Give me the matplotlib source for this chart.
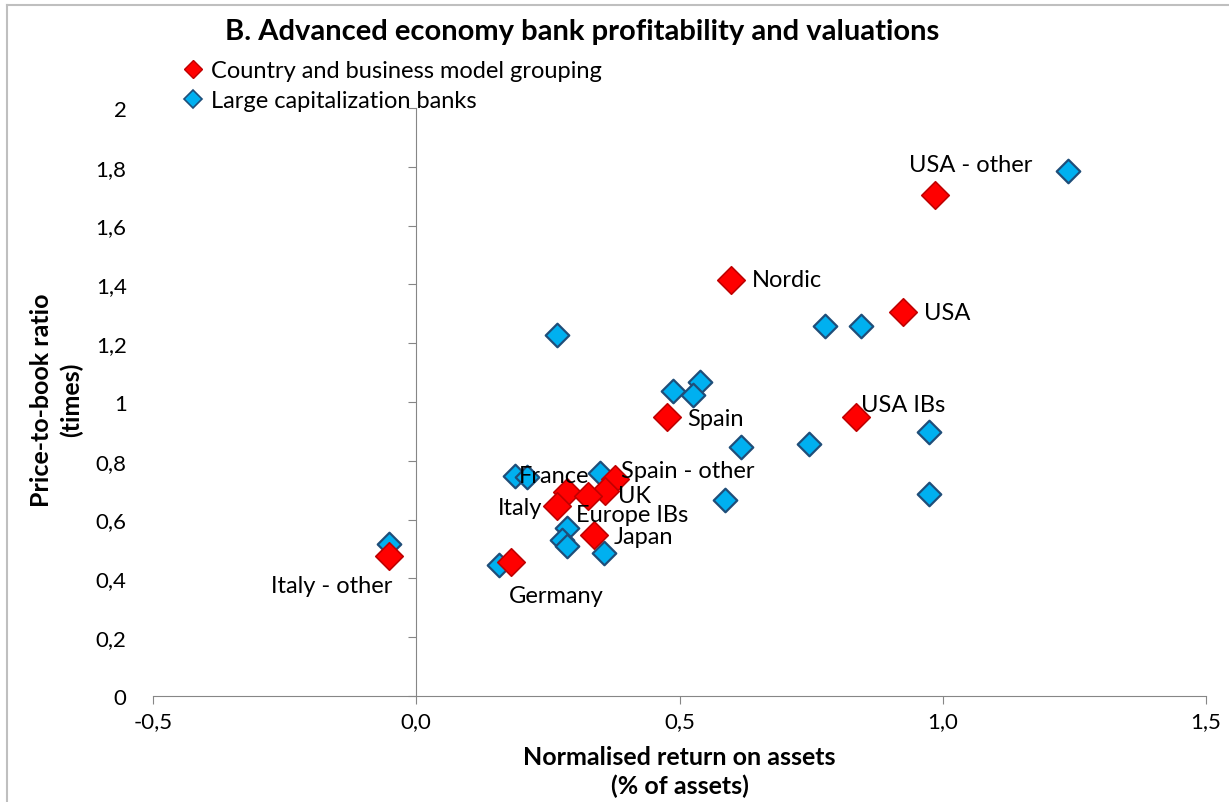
import numpy as np
import matplotlib
matplotlib.use('Agg')
import matplotlib.pyplot as plt
from matplotlib.lines import Line2D
from matplotlib.ticker import FuncFormatter, MultipleLocator

plt.rcParams['font.family'] = ['Lato', 'DejaVu Sans']

# Country and business model groupings (red)
group_names = ['USA - other', 'Nordic', 'USA', 'Spain', 'USA IBs', 'Spain - other',
               'UK', 'France', 'Italy', 'Europe IBs', 'Japan', 'Germany', 'Italy - other']
group_roa = [0.986, 0.598, 0.925, 0.477, 0.836, 0.378,
             0.359, 0.287, 0.268, 0.327, 0.338, 0.179, -0.051]
group_pb = [1.704, 1.415, 1.306, 0.949, 0.949, 0.738,
            0.697, 0.694, 0.646, 0.680, 0.548, 0.456, 0.476]

# Large capitalization banks (blue)
bank_roa = [1.237, 0.777, 0.845, 0.268, 0.488, 0.538, 0.526, 0.617, 0.746, 0.974,
            0.974, 0.587, 0.188, 0.211, 0.349, 0.287, 0.277, 0.287, 0.357, 0.158, -0.051]
bank_pb = [1.786, 1.259, 1.259, 1.228, 1.037, 1.068, 1.024, 0.847, 0.857, 0.898,
           0.687, 0.667, 0.748, 0.745, 0.758, 0.571, 0.531, 0.510, 0.486, 0.446, 0.517]

# label placement: offset in points and alignment
label_pos = {
    'USA - other': (-19, 22, 'left'),
    'Nordic': (15, 0, 'left'),
    'USA': (15, 0, 'left'),
    'Spain': (14, -1, 'left'),
    'USA IBs': (3, 9, 'left'),
    'Spain - other': (4, 6, 'left'),
    'UK': (9, -3, 'left'),
    'France': (-35, 12, 'left'),
    'Italy': (-11, -1, 'right'),
    'Europe IBs': (-9, -13, 'left'),
    'Japan': (14, -1, 'left'),
    'Germany': (-1, -24, 'left'),
    'Italy - other': (2, -21, 'right'),
}

grey = '#868686'
fig = plt.figure(figsize=(12.29, 8.03), dpi=100)
ax = fig.add_axes([0.1245, 0.132, 0.8568, 0.7323])

ax.scatter(bank_roa, bank_pb, marker='D', s=12**2, c='#00B0F0',
           edgecolors='#1F4E79', linewidths=1.6, zorder=3)
ax.scatter(group_roa, group_pb, marker='D', s=14**2, c='#FF0000',
           edgecolors='#C00000', linewidths=1.2, zorder=4)

for name, x, y in zip(group_names, group_roa, group_pb):
    dx, dy, ha = label_pos[name]
    ax.annotate(name, (x, y), xytext=(dx, dy), textcoords='offset points',
                ha=ha, va='center', fontsize=17, zorder=5)

ax.set_xlim(-0.5, 1.5)
ax.set_ylim(0, 2)
ax.xaxis.set_major_locator(MultipleLocator(0.5))
ax.yaxis.set_major_locator(MultipleLocator(0.2))
ax.xaxis.set_major_formatter(FuncFormatter(lambda v, p: f'{v:.1f}'.replace('.', ',')))
ax.yaxis.set_major_formatter(FuncFormatter(
    lambda v, p: '%d' % round(v) if abs(v - round(v)) < 1e-9 else f'{v:.1f}'.replace('.', ',')))

for s in ['top', 'right', 'left']:
    ax.spines[s].set_visible(False)
ax.spines['bottom'].set_color(grey)
ax.tick_params(axis='x', direction='out', length=6, color=grey, labelsize=16, pad=5)
ax.tick_params(axis='y', length=0, labelsize=16, pad=19)

# vertical axis line drawn at x = 0
sec = ax.secondary_yaxis(0.25)
sec.spines['left'].set_color(grey)
sec.yaxis.set_major_locator(MultipleLocator(0.2))
sec.tick_params(axis='y', direction='out', length=6, color=grey, labelleft=False)

fig.text(0.4735, 0.960, 'B. Advanced economy bank profitability and valuations',
         ha='center', va='center', fontsize=21, fontweight='bold')
fig.text(0.046, 0.502, 'Price-to-book ratio\n(times)', rotation=90, ha='center',
         va='center', fontsize=18, fontweight='bold', multialignment='center', linespacing=1.35)
fig.text(0.553, 0.0385, 'Normalised return on assets\n(% of assets)', ha='center',
         va='center', fontsize=18, fontweight='bold', multialignment='center', linespacing=1.25)

handles = [
    Line2D([], [], ls='none', marker='D', ms=9, mfc='#FF0000', mec='#C00000', mew=1),
    Line2D([], [], ls='none', marker='D', ms=9, mfc='#00B0F0', mec='#1F4E79', mew=1.2),
]
fig.legend(handles, ['Country and business model grouping', 'Large capitalization banks'],
           loc='upper left', bbox_to_anchor=(0.141, 0.9385), frameon=False, fontsize=17,
           handlelength=0.7, handletextpad=0.4, labelspacing=0.37, borderpad=0)

# chart-area border (top and left edges visible)
fig.add_artist(Line2D([0.006, 1.0], [0.9925, 0.9925], color='#BFBFBF', lw=1.5))
fig.add_artist(Line2D([0.006, 0.006], [0.0, 0.9925], color='#BFBFBF', lw=1.5))

fig.savefig('out.png', dpi=100)
